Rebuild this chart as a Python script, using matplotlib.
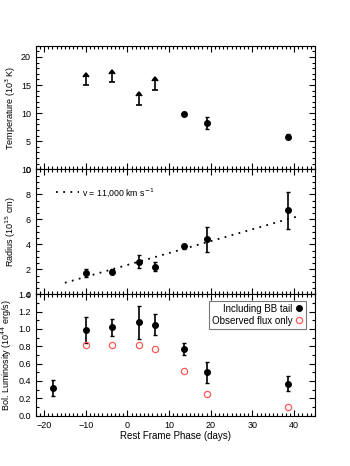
import matplotlib
matplotlib.use("Agg")
import matplotlib.pyplot as plt
from matplotlib.ticker import MultipleLocator, FormatStrFormatter
from matplotlib.lines import Line2D

plt.rcParams['font.family'] = ['Liberation Sans', 'DejaVu Sans']

# Temperature: lower limits (arrows) and measurements
t_lim_phase = [-10.0, -3.7, 2.8, 6.6]
t_lim_val = [15.0, 15.5, 11.5, 14.2]
t_phase = [13.5, 19.1, 38.6]
t_val = [9.9, 8.2, 5.8]
t_err = [0.25, 1.1, 0.4]

# Radius
r_phase = [-10.0, -3.7, 2.8, 6.6, 13.5, 19.1, 38.6]
r_val = [1.68, 1.81, 2.62, 2.21, 3.83, 4.42, 6.71]
r_err = [0.32, 0.2, 0.5, 0.35, 0.2, 1.0, 1.5]
v_line_phase = [-15.0, 41.0]
v_line_r = [0.92, 6.25]

# Luminosity
l_phase = [-17.8, -10.0, -3.7, 2.8, 6.6, 13.5, 19.1, 38.6]
l_val = [0.32, 0.99, 1.02, 1.08, 1.05, 0.77, 0.50, 0.37]
l_err = [0.095, 0.15, 0.10, 0.19, 0.12, 0.07, 0.12, 0.085]
lo_phase = [-10.0, -3.7, 2.8, 6.6, 13.5, 19.1, 38.6]
lo_val = [0.82, 0.82, 0.82, 0.77, 0.52, 0.245, 0.10]

fs = 6.5
fig = plt.figure(figsize=(3.5, 4.66), dpi=100)
L, W = 0.102, 0.798
ax1 = fig.add_axes([L, 0.6367, W, 0.902 - 0.6367])
ax2 = fig.add_axes([L, 0.3685, W, 0.6367 - 0.3685])
ax3 = fig.add_axes([L, 0.108, W, 0.3685 - 0.108])

for ax in (ax1, ax2, ax3):
    ax.set_xlim(-22, 45)
    ax.xaxis.set_major_locator(MultipleLocator(10))
    ax.xaxis.set_minor_locator(MultipleLocator(1))
    ax.tick_params(which='both', direction='in', top=True, right=True,
                   labelsize=fs, width=0.8)
    ax.tick_params(which='major', length=4)
    ax.tick_params(which='minor', length=2)
    for s in ax.spines.values():
        s.set_linewidth(0.8)

ax1.tick_params(labelbottom=False)
ax2.tick_params(labelbottom=False)

# Temperature panel
ax1.errorbar(t_lim_phase, t_lim_val, yerr=[[0]*4, [1.5]*4], lolims=True,
             fmt='none', color='black', ecolor='black', elinewidth=1.2,
             capsize=2, capthick=1.2)
ax1.errorbar(t_phase, t_val, yerr=t_err, fmt='o', color='black', ms=4,
             elinewidth=1.2, capsize=1.5, capthick=1)
ax1.set_ylim(0, 22)
ax1.yaxis.set_major_locator(MultipleLocator(5))
ax1.yaxis.set_minor_locator(MultipleLocator(1))
ax1.set_ylabel('Temperature (10$^3$ K)', fontsize=fs)
ax1.yaxis.set_label_coords(-0.062, 0.5)

# Radius panel
ax2.plot(v_line_phase, v_line_r, linestyle=(0, (1, 3)), color='black', lw=1.3)
ax2.errorbar(r_phase, r_val, yerr=r_err, fmt='o', color='black', ms=4,
             elinewidth=1.2, capsize=1.5, capthick=1)
ax2.set_ylim(0, 10)
ax2.yaxis.set_major_locator(MultipleLocator(2))
ax2.yaxis.set_minor_locator(MultipleLocator(0.5))
ax2.set_ylabel('Radius (10$^{15}$ cm)', fontsize=fs)
ax2.yaxis.set_label_coords(-0.062, 0.5)
h = Line2D([], [], linestyle=(0, (1, 3)), color='black', lw=1.3)
ax2.legend([h], ['v = 11,000 km s$^{-1}$'], loc='upper left', frameon=False,
           fontsize=6.3, handlelength=2.6, handletextpad=0.4,
           bbox_to_anchor=(0.045, 0.93))

# Luminosity panel
ax3.errorbar(l_phase, l_val, yerr=l_err, fmt='o', color='black', ms=4,
             elinewidth=1.2, capsize=1.5, capthick=1)
p2, = ax3.plot(lo_phase, lo_val, 'o', mfc='none', mec='#ff5a5a', ms=4.5, mew=0.9,
               linestyle='none')
ax3.set_ylim(0, 1.4)
ax3.yaxis.set_major_locator(MultipleLocator(0.2))
ax3.yaxis.set_minor_locator(MultipleLocator(0.1))
ax3.yaxis.set_major_formatter(FormatStrFormatter('%.1f'))
ax3.set_ylabel('Bol. Luminosity (10$^{44}$ erg/s)', fontsize=fs)
ax3.yaxis.set_label_coords(-0.077, 0.5)
ax3.set_xlabel('Rest Frame Phase (days)', fontsize=7, labelpad=1)
h1 = Line2D([], [], marker='o', color='black', ms=4, linestyle='none')
leg = ax3.legend([h1, p2], ['Including BB tail', 'Observed flux only'],
                 loc='upper right', markerfirst=False, fontsize=fs + 0.5,
                 frameon=True, fancybox=False, handlelength=0.8,
                 handletextpad=0.3, borderpad=0.3, labelspacing=0.2,
                 bbox_to_anchor=(0.985, 0.985))
leg.get_frame().set_edgecolor('#555555')
leg.get_frame().set_linewidth(0.8)

fig.savefig('out.png', dpi=100)
